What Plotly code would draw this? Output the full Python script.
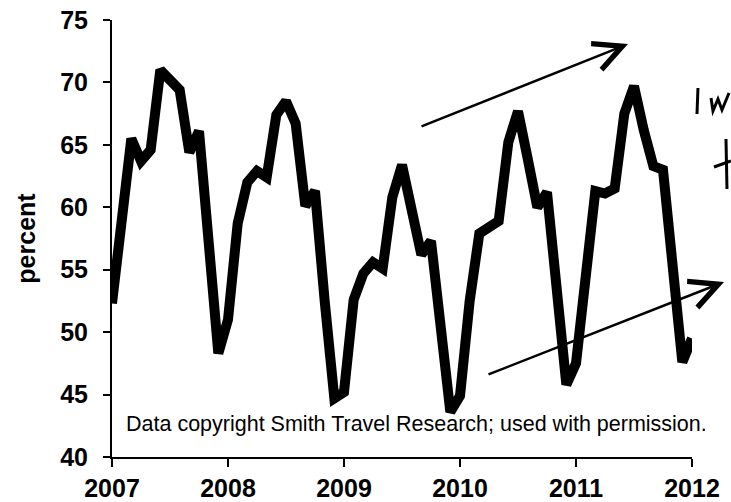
import plotly.graph_objects as go

# Monthly hotel occupancy (percent), Jan 2007 .. Jan 2012
years = [2007, 2008, 2009, 2010, 2011]
occ_2007 = [52.3, 59.0, 65.5, 63.7, 64.6, 71.0, 70.2, 69.4, 64.4, 66.1, 57.2, 48.3]
occ_2008 = [51.0, 58.7, 62.0, 62.9, 62.4, 67.4, 68.5, 66.7, 60.1, 61.3, 52.5, 44.7]
occ_2009 = [45.2, 52.6, 54.7, 55.6, 55.1, 60.8, 63.4, 59.8, 56.2, 57.3, 50.2, 43.6]
occ_2010 = [44.9, 52.5, 57.9, 58.3, 58.9, 65.2, 67.7, 63.9, 60.0, 61.2, 53.5, 45.8]
occ_2011 = [47.5, 54.5, 61.3, 61.1, 61.5, 67.5, 69.7, 66.2, 63.3, 63.0, 55.3, 47.6]
occ_2012 = [49.5]

x_tick_vals = [2007, 2008, 2009, 2010, 2011, 2012]
y_tick_vals = [40, 45, 50, 55, 60, 65, 70, 75]

values = occ_2007 + occ_2008 + occ_2009 + occ_2010 + occ_2011 + occ_2012
xs = [2007 + i / 12 for i in range(len(values))]

W, H = 731, 502
# plot area in pixels: (112, 20) .. (692, 457)
PX0, PY0, PX1, PY1 = 112, 20, 692, 457
PW, PH = PX1 - PX0, PY1 - PY0
L, T = PX0, PY0
R, B = W - L - PW, H - T - PH


def px2paper(x, y):
    return (x - PX0) / PW, (PY1 - y) / PH


fig = go.Figure()
fig.add_trace(go.Scatter(x=xs, y=values, mode="lines",
                         line=dict(color="black", width=10),
                         hoverinfo="skip", showlegend=False))

font_fam = "Liberation Sans, Arial, sans-serif"
fig.update_layout(
    template="none",
    width=W, height=H,
    margin=dict(l=L, r=R, t=T, b=B, autoexpand=False),
    paper_bgcolor="white", plot_bgcolor="white",
    font=dict(family=font_fam, color="black"),
    xaxis=dict(range=[2007, 2012], tickvals=x_tick_vals,
               ticktext=[str(v) for v in x_tick_vals], automargin=False,
               ticklabeloverflow="allow",
               showline=True, linecolor="black", linewidth=2,
               ticks="outside", ticklen=8, tickwidth=2, tickcolor="black",
               showgrid=False, zeroline=False,
               tickfont=dict(size=25, weight="bold", family=font_fam)),
    yaxis=dict(range=[40, 75], tickvals=y_tick_vals, automargin=False,
               ticklabeloverflow="allow",
               showline=True, linecolor="black", linewidth=2,
               ticks="outside", ticklen=7, tickwidth=2, tickcolor="black",
               showgrid=False, zeroline=False, ticklabelstandoff=10,
               tickfont=dict(size=25, weight="bold", family=font_fam),
               title=dict(text="percent", standoff=17,
                          font=dict(size=25, weight="bold", family=font_fam))),
)

# copyright note
ax_, ay_ = px2paper(124, 424)
fig.add_annotation(x=ax_, y=ay_, xref="paper", yref="paper", xanchor="left",
                   yanchor="middle", showarrow=False,
                   text="Data copyright Smith Travel Research; used with permission.",
                   font=dict(size=21.5, family=font_fam, color="black"))

# hand-drawn arrows
for (hx, hy), (tx, ty) in [((628, 44), (420, 127)), ((724, 282), (487, 375))]:
    px_, py_ = px2paper(hx, hy)
    fig.add_annotation(x=px_, y=py_, xref="paper", yref="paper",
                       ax=tx - hx, ay=ty - hy, axref="pixel", ayref="pixel",
                       text="", showarrow=True, arrowhead=5, arrowsize=2.2,
                       arrowwidth=2.5, arrowcolor="black")

# hand-written marks at the right edge
strokes = [
    [(698, 88), (697, 114)],
    [(711, 98), (713, 111), (718, 99), (722, 110), (729, 93)],
    [(726, 139), (727, 189)],
    [(714, 167), (731, 161)],
]
for s in strokes:
    pts = [px2paper(x, y) for x, y in s]
    path = "M " + " L ".join(f"{a:.4f},{b:.4f}" for a, b in pts)
    fig.add_shape(type="path", path=path, xref="paper", yref="paper",
                  line=dict(color="black", width=3))

fig.write_html(
    "out.html",
    config={"displayModeBar": False, "staticPlot": True},
    post_script="document.body.style.margin='0';document.body.style.overflow='hidden';",
)
